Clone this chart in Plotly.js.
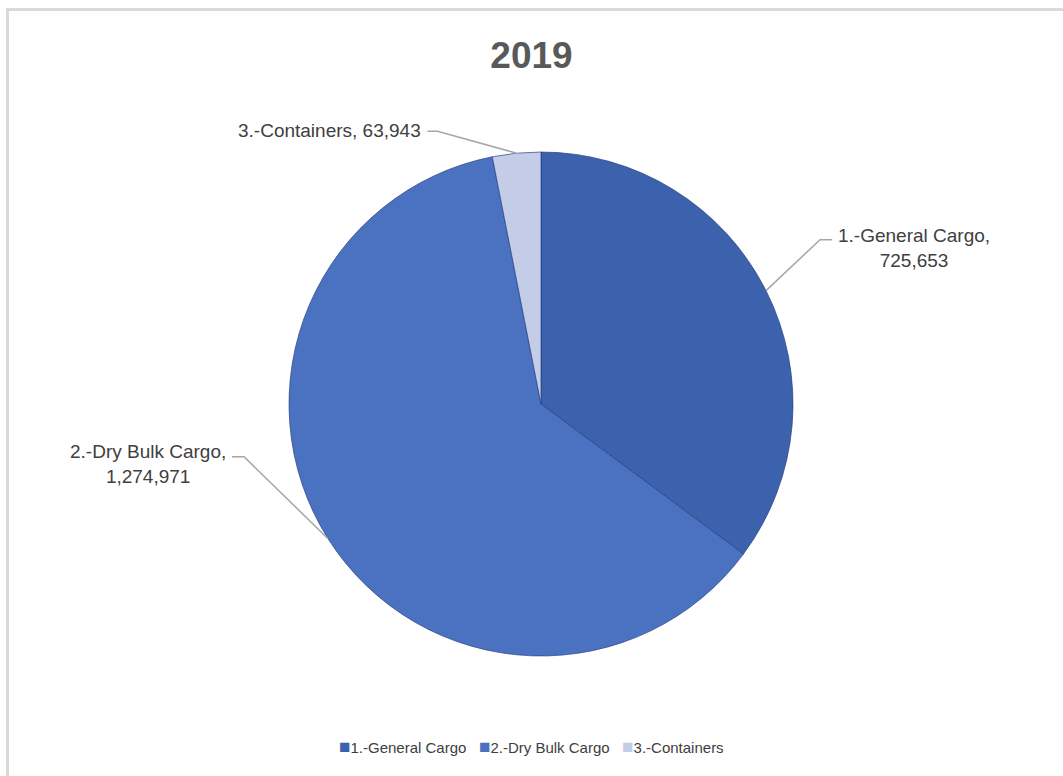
<!DOCTYPE html>
<html>
<head>
<meta charset="utf-8">
<script src="https://cdn.plot.ly/plotly-3.0.1.min.js"></script>
<style>
  html, body { margin: 0; padding: 0; background: #ffffff; }
  #frame { position: absolute; left: 6px; top: 8px; width: 1057px; height: 768px;
           border-left: 3px solid #d9d9d9; border-top: 3px solid #d9d9d9; box-sizing: border-box; }
  #chart { position: absolute; left: 0; top: 0; width: 1063px; height: 776px; }
</style>
</head>
<body>
<div id="frame"></div>
<div id="chart"></div>
<script>
// ---- data ----
const chartTitle = "2019";
const categories = ["1.-General Cargo", "2.-Dry Bulk Cargo", "3.-Containers"];
const values = [725653, 1274971, 63943];
const colors = ["#3c62ad", "#4a72c1", "#c4cde8"];

// ---- layout constants (pixels) ----
const W = 1063, H = 776;
const cx = 541, cy = 404, R = 252;
const FONT = "'Liberation Sans', Arial, sans-serif";
// leader-line style offsets: elbow offset from slice edge, horizontal run, text gap, text vertical shift
const leader = [
  {dx: 54, dy: -51, run: 12, gap: 4, ty: 8, anchor: "left"},
  {dx: -84, dy: -82, run: -12, gap: -4, ty: 7, anchor: "right"},
  {dx: -79, dy: -22, run: -10, gap: -5, ty: -1, anchor: "right"}
];

const px = x => x / W;
const py = y => 1 - y / H;
const fmt = v => v.toLocaleString("en-US");

const total = values.reduce((a, b) => a + b, 0);
const shapes = [];
const annotations = [];
let cum = 0;
values.forEach((v, i) => {
  const mid = (cum + v / 2) / total * 2 * Math.PI; // clockwise from 12 o'clock
  cum += v;
  const ex = cx + R * Math.sin(mid);
  const ey = cy - R * Math.cos(mid);
  const L = leader[i];
  const bx = ex + L.dx, by = ey + L.dy;
  const hx = bx + L.run;
  shapes.push({
    type: "path", xref: "paper", yref: "paper",
    path: `M${px(ex)},${py(ey)} L${px(bx)},${py(by)} L${px(hx)},${py(by)}`,
    line: {color: "#a6a6a6", width: 1.5}
  });
  const text = i === 2
    ? `${categories[i]}, ${fmt(v)}`
    : `${categories[i]},<br>${fmt(v)}`;
  annotations.push({
    xref: "paper", yref: "paper",
    x: px(hx + L.gap), y: py(by + L.ty),
    xanchor: L.anchor, yanchor: "middle", align: "center",
    showarrow: false, text: text,
    font: {family: FONT, size: 19, color: "#404040"}
  });
});

// compact legend built from categories & colors
const legendText = categories.map((c, i) =>
  `<span style="color:${colors[i]};font-size:19px">■</span>${c}`).join("&nbsp;&nbsp;&nbsp;");
annotations.push({
  xref: "paper", yref: "paper", x: 0.5, y: py(746),
  xanchor: "center", yanchor: "middle", showarrow: false,
  text: legendText, font: {family: FONT, size: 15, color: "#404040"}
});

const trace = {
  type: "pie",
  labels: categories,
  values: values,
  sort: false,
  direction: "clockwise",
  rotation: 0,
  textinfo: "none",
  hoverinfo: "label+value",
  marker: {colors: colors, line: {color: "rgba(35,60,125,0.65)", width: 1}},
  domain: {x: [px(cx - R), px(cx + R)], y: [py(cy + R), py(cy - R)]},
  showlegend: false
};

const layout = {
  width: W, height: H,
  margin: {l: 0, r: 0, t: 0, b: 0},
  paper_bgcolor: "rgba(0,0,0,0)",
  plot_bgcolor: "rgba(0,0,0,0)",
  showlegend: false,
  title: {
    text: "<b>" + chartTitle + "</b>",
    x: 0.5, xanchor: "center", xref: "paper",
    y: py(55), yanchor: "middle", yref: "paper",
    font: {family: FONT, size: 37, color: "#595959"}
  },
  shapes: shapes,
  annotations: annotations
};

Plotly.newPlot("chart", [trace], layout, {displayModeBar: false, staticPlot: true});
</script>
</body>
</html>
